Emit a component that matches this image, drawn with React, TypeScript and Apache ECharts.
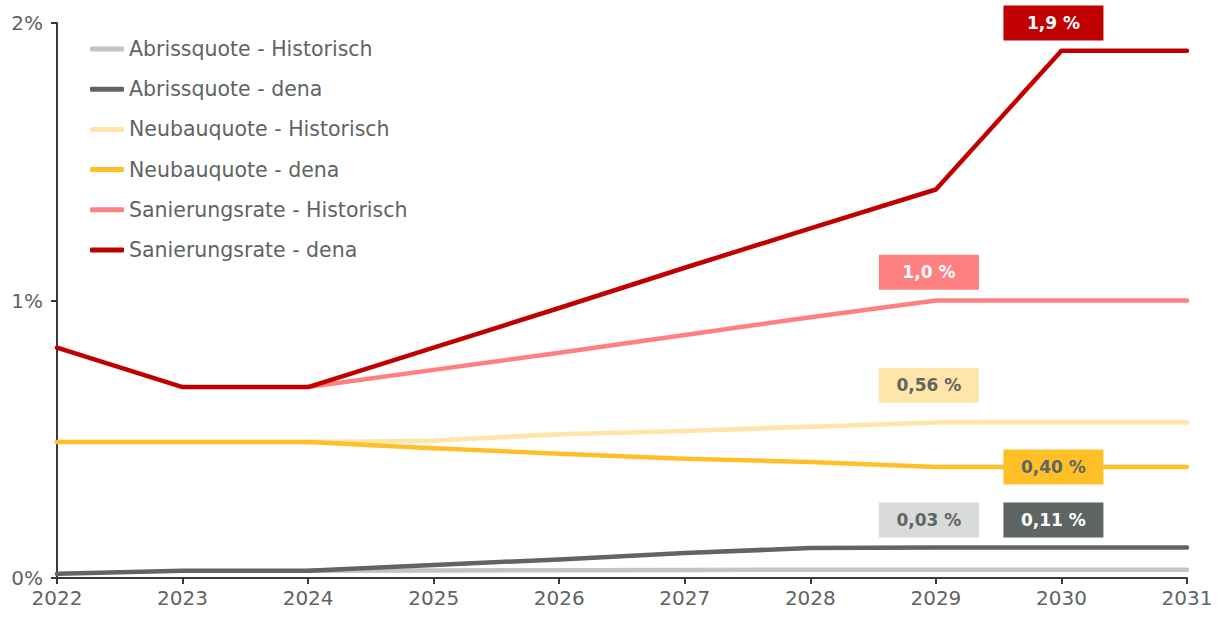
import React, { useEffect, useRef } from "react";
import * as echarts from "echarts";

const years = ["2022", "2023", "2024", "2025", "2026", "2027", "2028", "2029", "2030", "2031"];
const abrissHist = [null, null, 0.026, 0.027, 0.028, 0.029, 0.03, 0.03, 0.03, 0.03];
const abrissDena = [0.015, 0.026, 0.026, 0.047, 0.067, 0.09, 0.108, 0.11, 0.11, 0.11];
const neubauHist = [null, null, 0.49, 0.495, 0.518, 0.53, 0.545, 0.56, 0.56, 0.56];
const neubauDena = [0.49, 0.49, 0.49, 0.468, 0.448, 0.43, 0.418, 0.4, 0.4, 0.4];
const sanierHist = [null, null, 0.688, 0.75, 0.812, 0.876, 0.94, 1.0, 1.0, 1.0];
const sanierDena = [0.83, 0.688, 0.688, 0.83, 0.973, 1.118, 1.26, 1.4, 1.9, 1.9];
const yTicks = [0, 1, 2];

const seriesNames = [
  "Abrissquote - Historisch",
  "Abrissquote - dena",
  "Neubauquote - Historisch",
  "Neubauquote - dena",
  "Sanierungsrate - Historisch",
  "Sanierungsrate - dena",
];
const seriesData = [abrissHist, abrissDena, neubauHist, neubauDena, sanierHist, sanierDena];
const colors = ["#c2c5c3", "#5f6563", "#ffe5a9", "#ffbf27", "#ff8080", "#c00000"];

// value-box annotations: [series index, label, category, y anchor, text colour, x offset, box colour]
const boxes: [number, string, string, number, string, number, string][] = [
  [0, "0,03 %", "2029", 0.209, "#5f6563", -7, "#d9dbda"],
  [1, "0,11 %", "2030", 0.209, "#ffffff", -8, "#5f6563"],
  [2, "0,56 %", "2029", 0.695, "#5f6563", -7, "#ffe5a9"],
  [3, "0,40 %", "2030", 0.4, "#5f6563", -8, "#ffbf27"],
  [4, "1,0 %", "2029", 1.102, "#ffffff", -7, "#ff8080"],
  [5, "1,9 %", "2030", 2.0, "#ffffff", -8, "#c00000"],
];

const FONT = "DejaVu Sans";
const GRAY = "#5f6462";

export default function App() {
  const ref = useRef<HTMLDivElement>(null);
  useEffect(() => {
    if (!ref.current) return;
    const chart = echarts.init(ref.current, null, { renderer: "svg" });
    const series = seriesNames.map((name, i) => {
      const b = boxes.filter((bx) => bx[0] === i);
      return {
        name,
        type: "line",
        data: seriesData[i],
        showSymbol: false,
        symbol: "none",
        z: 2 + i,
        lineStyle: { color: colors[i], width: 4.5, cap: "round", join: "round" },
        itemStyle: { color: colors[i] },
        markPoint: {
          silent: true,
          z: 20,
          data: b.map((bx) => ({
            coord: [bx[2], bx[3]],
            symbol: "rect",
            symbolSize: [100, 35],
            symbolOffset: [bx[5], 0],
            itemStyle: { color: bx[6] },
            label: {
              show: true,
              position: "inside",
              formatter: bx[1],
              color: bx[4],
              fontFamily: FONT,
              fontWeight: "bold",
              fontSize: 17,
            },
          })),
        },
      };
    });
    chart.setOption({
      animation: false,
      backgroundColor: "#ffffff",
      grid: { left: 57, right: 32, top: 23, bottom: 44, containLabel: false },
      legend: {
        orient: "vertical",
        left: 85,
        top: 32,
        itemWidth: 34,
        itemHeight: 5,
        itemGap: 16.2,
        icon: "roundRect",
        data: seriesNames,
        textStyle: { color: GRAY, fontFamily: FONT, fontSize: 20.5, lineHeight: 24 },
      },
      xAxis: {
        type: "category",
        data: years,
        boundaryGap: false,
        axisLine: { lineStyle: { color: "#3a3a3a", width: 2 } },
        axisTick: { show: true, length: 6, lineStyle: { color: "#3a3a3a", width: 2 } },
        axisLabel: { color: GRAY, fontFamily: FONT, fontSize: 20, margin: 10 },
        splitLine: { show: false },
      },
      yAxis: {
        type: "value",
        min: yTicks[0],
        max: yTicks[yTicks.length - 1],
        interval: 1,
        axisLine: { show: true, lineStyle: { color: "#3a3a3a", width: 2 } },
        axisTick: { show: true, length: 6, lineStyle: { color: "#3a3a3a", width: 2 } },
        axisLabel: { color: GRAY, fontFamily: FONT, fontSize: 20, margin: 14, formatter: (v: number) => `${v}%` },
        splitLine: { show: false },
      },
      series,
    });
    return () => chart.dispose();
  }, []);
  return <div ref={ref} style={{ width: 1219, height: 622, position: "absolute", left: 0, top: 0 }} />;
}
